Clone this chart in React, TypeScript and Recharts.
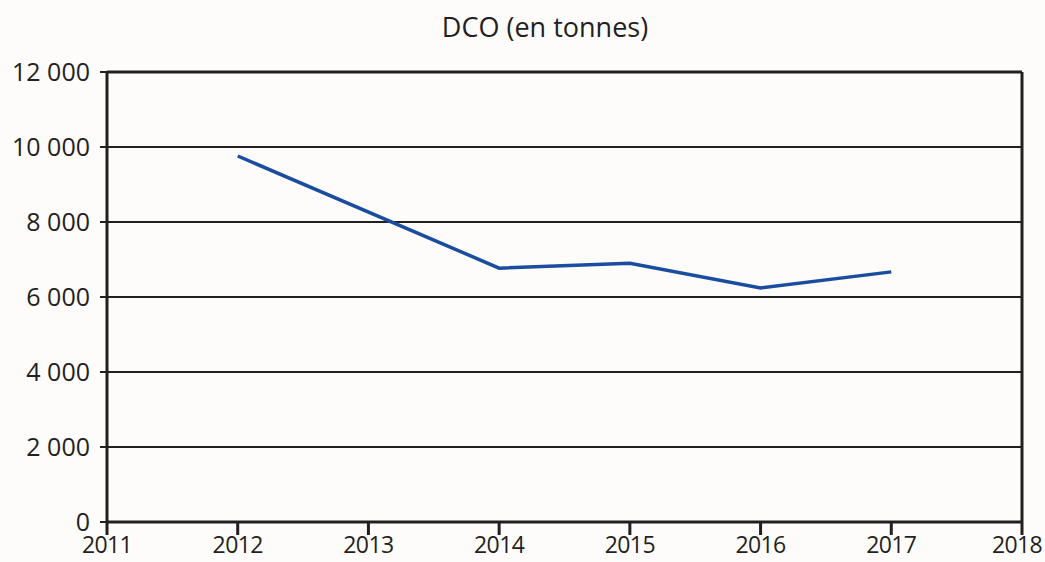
import React from 'react';
import { CartesianGrid, Line, LineChart, ReferenceLine, XAxis, YAxis } from 'recharts';

const years = [2012, 2013, 2014, 2015, 2016, 2017];
const dco = [9760, null, 6770, 6900, 6240, 6670];
const xTicks = [2011, 2012, 2013, 2014, 2015, 2016, 2017, 2018];
const yTicks = [0, 2000, 4000, 6000, 8000, 10000, 12000];

const data = years.map((year, i) => ({ year, value: dco[i] }));

const W = 1045;
const H = 562;
const INK = '#231f20';
const BLUE = '#1a4c9f';
const FONT = '"Open Sans", "Noto Sans", sans-serif';

// French-style thousands: 12 000
const fmt = (v: number) => (v === 0 ? '0' : v.toLocaleString('fr-FR').replace(/\s/g, ' '));

// year labels; the last one is nudged in so it isn't clipped by the edge
function YearTick(props: any) {
  const { x, y, payload } = props;
  const cx = Math.min(x, W - 28);
  return (
    <text
      x={cx}
      y={y}
      dy="0.71em"
      textAnchor="middle"
      fill={INK}
      fontSize={23}
      fontFamily={FONT}
      letterSpacing={-0.6}
    >
      {payload.value}
    </text>
  );
}

export default function App() {
  return (
    <div style={{ position: 'absolute', left: 0, top: 0, width: W, height: H, background: '#fdfcfb' }}>
      <div
        style={{
          position: 'absolute',
          top: 8,
          left: 345,
          width: 400,
          textAlign: 'center',
          fontFamily: FONT,
          fontSize: 27,
          color: INK,
        }}
      >
        DCO (en tonnes)
      </div>
      <LineChart width={W} height={H} data={data} margin={{ top: 72, right: 23, left: 0, bottom: 0 }}>
        <CartesianGrid vertical={false} stroke={INK} strokeWidth={2} strokeOpacity={1} />
        <XAxis
          dataKey="year"
          type="number"
          domain={[2011, 2018]}
          ticks={xTicks}
          interval={0}
          height={40}
          tickSize={13}
          tickMargin={2}
          axisLine={{ stroke: INK, strokeWidth: 3 }}
          tickLine={{ stroke: INK, strokeWidth: 3 }}
          tick={<YearTick />}
        />
        <YAxis
          domain={[0, 12000]}
          ticks={yTicks}
          interval={0}
          width={107}
          tickSize={7}
          tickMargin={10}
          tickFormatter={fmt}
          axisLine={{ stroke: INK, strokeWidth: 3 }}
          tickLine={{ stroke: INK, strokeWidth: 2 }}
          tick={{ fill: INK, fontSize: 25, fontFamily: FONT }}
        />
        <ReferenceLine y={12000} stroke={INK} strokeWidth={3} />
        <ReferenceLine x={2018} stroke={INK} strokeWidth={3} />
        <Line
          type="linear"
          dataKey="value"
          stroke={BLUE}
          strokeWidth={3.5}
          dot={false}
          connectNulls
          isAnimationActive={false}
        />
      </LineChart>
    </div>
  );
}
